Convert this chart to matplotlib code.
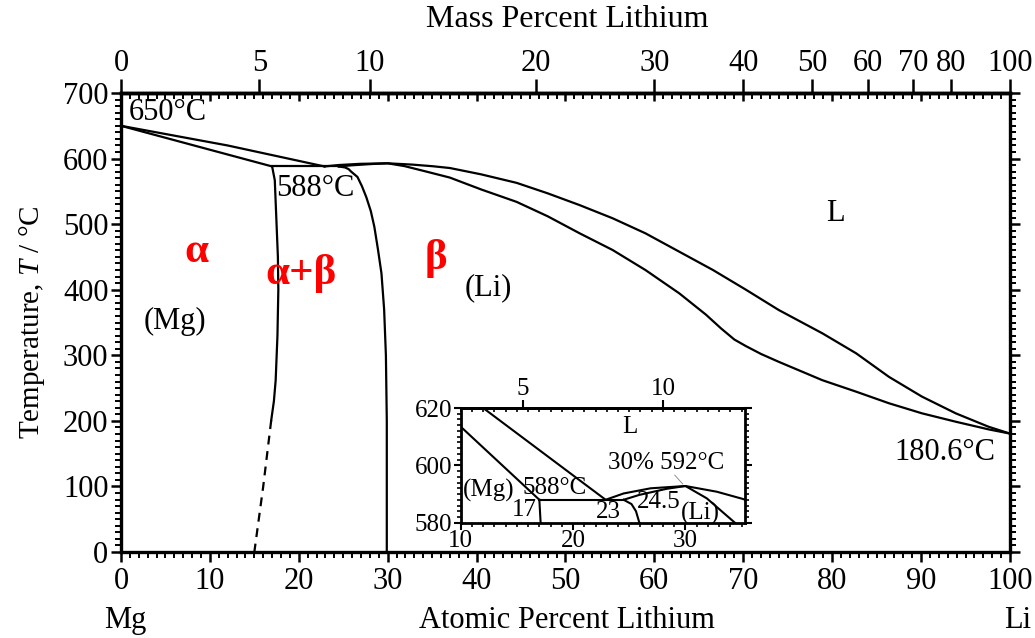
import matplotlib.pyplot as plt
from matplotlib.ticker import MultipleLocator
import numpy as np

plt.rcParams['font.family'] = ['Liberation Serif', 'DejaVu Serif']
plt.rcParams['mathtext.fontset'] = 'custom'
plt.rcParams['mathtext.it'] = 'Liberation Serif:italic'
plt.rcParams['mathtext.rm'] = 'Liberation Serif'

# --- boundaries (atomic % Li, °C) ---
mg_liq_x = [0, 12.0, 22.9]
mg_liq_T = [650, 620, 588]

mg_sol_x = [0, 10.0, 17.0]
mg_sol_T = [650, 613.5, 588]

eut_x = [17.0, 24.5]
eut_T = [588, 588]

mg_solv_x = [17.0, 17.3, 17.5, 17.65, 17.7, 17.6, 17.4, 17.2, 16.9]
mg_solv_T = [588, 567, 500, 450, 400, 330, 262, 230, 201]

mg_solv_dash_x = [16.9, 16.0, 15.0]
mg_solv_dash_T = [201, 100, 0]

li_solv_x = [24.5, 25.2, 25.6, 25.9, 26.6, 27.1, 27.6, 28.1, 28.5, 28.9,
             29.3, 29.6, 29.8, 29.9, 29.9]
li_solv_T = [588, 586.5, 584, 580, 572, 558, 541, 520, 496, 462,
             425, 370, 300, 200, 0]

li_liq_x = [22.9, 24.5, 26.9, 30.0, 32.8, 35.1, 37.0, 40.5, 44.5, 48.0, 51.6,
            55.3, 59.0, 62.8, 66.6, 70.3, 74.0, 78.9, 82.7, 86.4, 90.1, 93.9,
            97.6, 100]
li_liq_T = [588, 590.2, 592.0, 592.8, 590.8, 588.3, 585.6, 576, 563, 547, 529,
            509, 486, 458, 430, 400, 369, 333.5, 303, 267, 237, 211.5,
            191, 180.6]

li_sol_x = [24.5, 25.9, 28.3, 30.0, 31.9, 34.4, 37.0, 40.5, 44.5, 48.0, 51.6,
            55.3, 59.0, 62.8, 65.8, 67.5, 69.0, 70.3, 72.0, 74.0, 78.9, 82.7,
            86.4, 90.1, 93.9, 97.6, 100]
li_sol_T = [588, 589.7, 591.8, 592.8, 588.5, 580, 571, 553, 534, 512, 486,
            460.6, 430, 394.5, 362, 341, 324, 314, 302, 290, 262, 244.5,
            226.8, 211.5, 198.7, 187, 180.6]

mass_ticks = [0, 5, 10, 20, 30, 40, 50, 60, 70, 80, 100]
inset_mass_ticks = [5, 10]


def at_to_mass(x):
    x = np.clip(np.asarray(x, float), 0, 100)
    return 100 * x * 6.941 / (x * 6.941 + (100 - x) * 24.305)


def mass_to_at(w):
    w = np.clip(np.asarray(w, float), 0, 100)
    return 100 * (w / 6.941) / (w / 6.941 + (100 - w) / 24.305)


def draw_lines(a, lw):
    for xs, ts in [(mg_liq_x, mg_liq_T), (mg_sol_x, mg_sol_T), (eut_x, eut_T),
                   (mg_solv_x, mg_solv_T), (li_solv_x, li_solv_T),
                   (li_liq_x, li_liq_T), (li_sol_x, li_sol_T)]:
        a.plot(xs, ts, color='black', lw=lw, solid_joinstyle='round')
    a.plot(mg_solv_dash_x, mg_solv_dash_T, color='black', lw=lw, ls=(0, (4, 3)))


FS = 22
fig = plt.figure(figsize=(10.35, 6.38), dpi=100)
ax = fig.add_axes([0.1169, 0.1348, 0.8589, 0.7194])
draw_lines(ax, 1.6)
ax.set_xlim(0, 100)
ax.set_ylim(0, 700)
ax.set_xticks(range(0, 101, 10))
ax.set_yticks(range(0, 701, 100))
ax.xaxis.set_minor_locator(MultipleLocator(1))
ax.yaxis.set_minor_locator(MultipleLocator(10))
for s in ax.spines.values():
    s.set_linewidth(2.4)
ax.tick_params(axis='x', which='major', direction='out', length=7, width=1.8,
               labelsize=FS, pad=4)
ax.tick_params(axis='x', which='minor', direction='out', length=4, width=1.4)
ax.tick_params(axis='y', which='major', direction='out', length=7, width=1.8,
               labelsize=FS, pad=2, right=True)
ax.tick_params(axis='y', which='minor', direction='out', length=4, width=1.4,
               right=True)

# at% ticks mirrored on top, pointing in
top_at = ax.secondary_xaxis('top')
top_at.set_xticks(range(0, 101, 10))
top_at.xaxis.set_minor_locator(MultipleLocator(1))
top_at.tick_params(which='major', direction='in', length=6, width=1.8,
                   labeltop=False)
top_at.tick_params(which='minor', direction='in', length=4, width=1.4)
top_at.spines['top'].set_linewidth(2.4)

# mass % scale on top
top_mass = ax.secondary_xaxis('top', functions=(at_to_mass, mass_to_at))
top_mass.set_xticks(mass_ticks)
top_mass.set_xticklabels([str(m) for m in mass_ticks])
top_mass.xaxis.set_minor_locator(MultipleLocator(1000))
top_mass.tick_params(which='major', direction='out', length=10, width=1.8,
                     labelsize=FS, pad=1)
top_mass.spines['top'].set_linewidth(2.4)

fig.text(0.548, 0.97, 'Mass Percent Lithium', ha='center', va='center',
         fontsize=23)
fig.text(0.548, 0.028, 'Atomic Percent Lithium', ha='center', va='center',
         fontsize=22)
fig.text(0.121, 0.028, 'Mg', ha='center', va='center', fontsize=22)
fig.text(0.983, 0.028, 'Li', ha='center', va='center', fontsize=22)
fig.text(0.031, 0.495, r'Temperature, $T$ / °C', ha='center', va='center',
         rotation=90, fontsize=21)

ax.text(0.9, 671, '650°C', ha='left', va='center', fontsize=FS)
ax.text(17.4, 555, '588°C', ha='left', va='center', fontsize=FS)
ax.text(6.1, 351, '(Mg)', ha='center', va='center', fontsize=FS)
ax.text(41.3, 403, '(Li)', ha='center', va='center', fontsize=FS)
ax.text(80.4, 517, 'L', ha='center', va='center', fontsize=FS)
ax.text(92.7, 151, '180.6°C', ha='center', va='center', fontsize=FS)
ax.text(8.5, 457, 'α', ha='center', va='center', fontsize=31,
        fontweight='bold', color='#ff0000')
ax.text(20.3, 424, 'α+β', ha='center', va='center', fontsize=31,
        fontweight='bold', color='#ff0000')
ax.text(35.4, 448, 'β', ha='center', va='center', fontsize=31,
        fontweight='bold', color='#ff0000')

# --- inset around the eutectic ---
IFS = 18
axi = fig.add_axes([0.4451, 0.1807, 0.2747, 0.1798])
draw_lines(axi, 1.5)
axi.set_xlim(10, 35.3)
axi.set_ylim(580, 620)
axi.set_xticks([10, 20, 30])
axi.set_yticks([580, 600, 620])
axi.xaxis.set_minor_locator(MultipleLocator(1))
axi.yaxis.set_minor_locator(MultipleLocator(2))
for s in axi.spines.values():
    s.set_linewidth(2.0)
axi.tick_params(axis='x', which='major', direction='out', length=5, width=1.5,
                labelsize=IFS, pad=0)
axi.tick_params(axis='x', which='minor', direction='out', length=3, width=1.2)
axi.tick_params(axis='y', which='major', direction='out', length=5, width=1.5,
                labelsize=IFS, pad=1, right=True)
axi.tick_params(axis='y', which='minor', direction='out', length=3, width=1.2,
                right=True)

in_top = axi.secondary_xaxis('top')
in_top.set_xticks([])
in_top.xaxis.set_minor_locator(MultipleLocator(1))
in_top.tick_params(which='minor', direction='in', length=3, width=1.2)
in_top.spines['top'].set_linewidth(2.0)

in_mass = axi.secondary_xaxis('top', functions=(at_to_mass, mass_to_at))
in_mass.set_xticks(inset_mass_ticks)
in_mass.set_xticklabels([str(m) for m in inset_mass_ticks])
in_mass.xaxis.set_minor_locator(MultipleLocator(1000))
in_mass.tick_params(which='major', direction='out', length=6, width=1.5,
                    labelsize=IFS, pad=0)
in_mass.spines['top'].set_linewidth(2.0)

axi.text(25.05, 613.4, 'L', ha='center', va='center', fontsize=IFS)
axi.text(28.3, 600.8, '30% 592°C', ha='center', va='center', fontsize=IFS)
axi.text(12.5, 591.2, '(Mg)', ha='center', va='center', fontsize=IFS)
axi.text(18.4, 592.0, '588°C', ha='center', va='center', fontsize=IFS)
axi.text(15.7, 584.4, '17', ha='center', va='center', fontsize=IFS)
axi.text(23.1, 583.8, '23', ha='center', va='center', fontsize=IFS)
axi.text(27.6, 587.1, '24.5', ha='center', va='center', fontsize=IFS)
axi.text(31.3, 583.3, '(Li)', ha='center', va='center', fontsize=IFS)
axi.plot([29.05, 29.76], [596.6, 593.5], color='gray', lw=0.6)

fig.savefig('out.png', dpi=100)
